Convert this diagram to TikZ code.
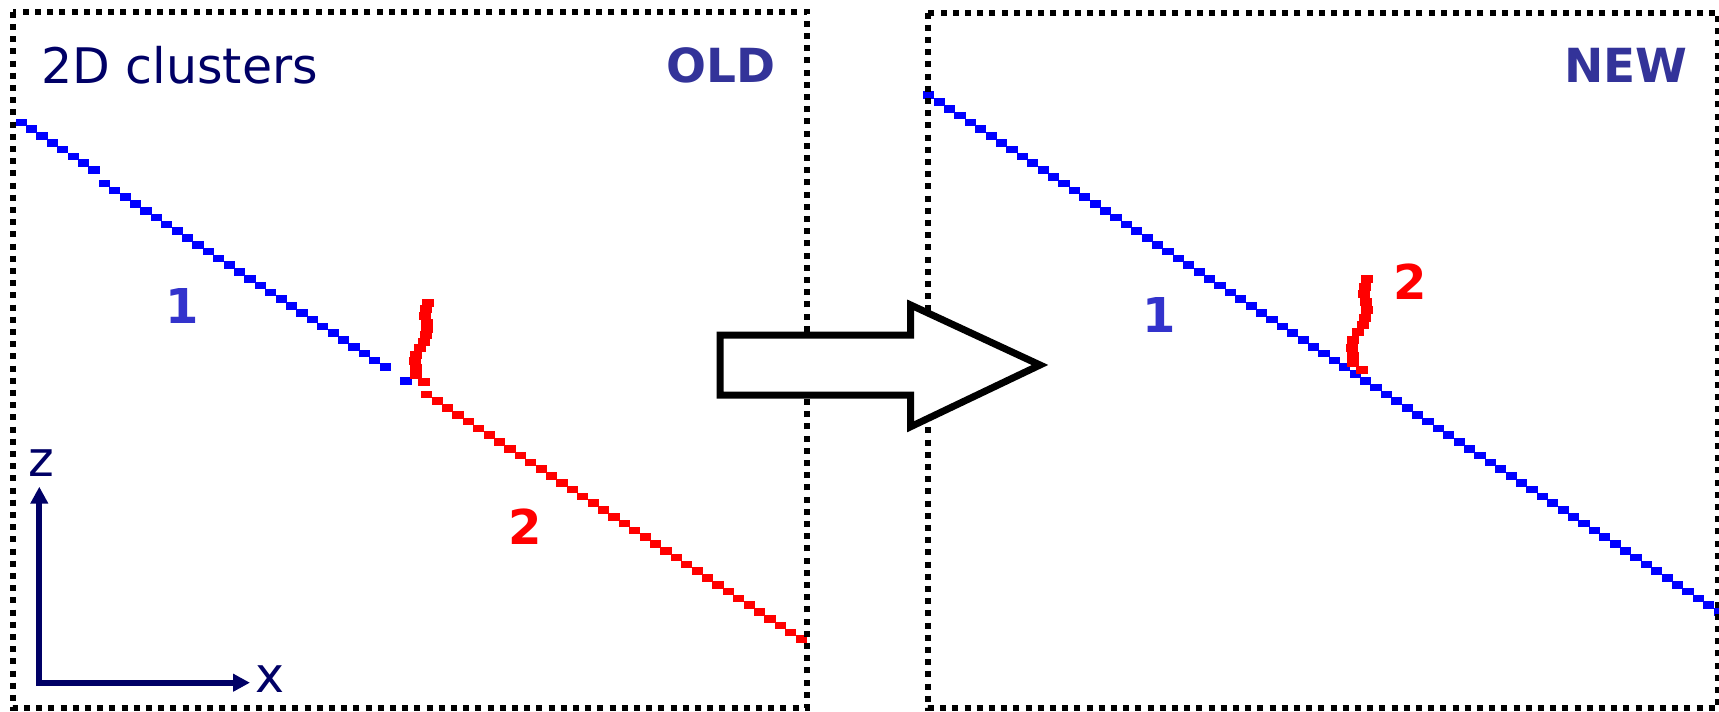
\documentclass[tikz,border=0pt]{standalone}
\usepackage{fontspec}
\setmainfont{DejaVu Sans}
\usetikzlibrary{arrows.meta}
\definecolor{navy}{RGB}{0,0,102}
\definecolor{oldnew}{RGB}{51,51,153}
\definecolor{lblblue}{RGB}{51,51,204}
\definecolor{trkblue}{RGB}{0,0,255}
\definecolor{trkred}{RGB}{255,0,0}
\tikzset{
  panel/.style={draw=black, line width=3pt, dash pattern=on 3pt off 3.1pt},
  axisline/.style={draw=navy, line width=3pt, line cap=rect, -{Triangle[length=8.5pt,width=8.5pt]}},
  titletext/.style={font=\fontsize{24.5}{28}\selectfont, text=navy, inner sep=0pt},
  tagtext/.style={font=\fontsize{23.5}{28}\selectfont\bfseries, text=oldnew, inner sep=0pt},
  numtext/.style={font=\fontsize{24}{28}\selectfont\bfseries, inner sep=0pt},
  bigarrow/.style={draw=black, fill=white, line width=3.5pt},
}
\newcommand{\trackcells}[6]{%
  \foreach \i in {#5,...,#6}{%
    \pgfmathsetmacro{\cx}{#2+\i*10.4+5.2}%
    \pgfmathsetmacro{\cy}{round((#3+#4*(\i*10.4+5.2))/6.8)*6.8}%
    \fill[#1] (\cx-5.6,\cy-3.8) rectangle (\cx+5.6,\cy+3.8);%
  }}
\newcommand{\curvecells}[2]{%
  \foreach \cx/\cy in {#2}{%
    \fill[#1] (\cx-6,\cy-4) rectangle (\cx+6,\cy+4);%
  }}
\begin{document}
\begin{tikzpicture}[x=0.5pt,y=-0.5pt]
\useasboundingbox (0,0) rectangle (1719,712);
% ---------- left panel tracks ----------
\trackcells{trkblue}{16}{121.6}{0.663}{0}{35}
\trackcells{trkblue}{16}{121.6}{0.663}{37}{37}
\trackcells{trkred}{16}{121.6}{0.663}{39}{75}
\curvecells{trkred}{427.7/302.7,426/309,425/316,427/323,427/329,426/335,424/342,420/348,416/355,415/361,416/368,416/375,424/382}
% ---------- right panel tracks ----------
\trackcells{trkblue}{923.6}{93.8}{0.655}{0}{76}
\curvecells{trkred}{1367/279,1365/287,1364/294,1366/302,1367/310,1365/318,1363/325,1358/332,1353/340,1352/348,1353/356,1353/363,1362/370}
% ---------- panels ----------
\draw[panel] (12.7,11.7) rectangle (806.7,708);
\draw[panel] (928,12.5) rectangle (1718,708);
% ---------- texts ----------
\node[titletext, anchor=base west] (title) at (41,83.3) {2D clusters};
\node[tagtext, anchor=base east] (old) at (776,83) {OLD};
\node[tagtext, anchor=base east] (new) at (1688,83) {NEW};
\node[numtext, text=lblblue] (oneL) at (182,306) {1};
\node[numtext, text=trkred] (twoL) at (525,527) {2};
\node[numtext, text=lblblue] (oneR) at (1159,315) {1};
\node[numtext, text=trkred] (twoR) at (1410,282) {2};
% ---------- axes ----------
\coordinate (origin) at (39.3,682.7);
\coordinate (zend) at (39.3,486.7);
\coordinate (xend) at (250,682.7);
\draw[axisline] (origin) -- (zend);
\draw[axisline] (origin) -- (xend);
\node[titletext] (zlab) at (41,463) {z};
\node[titletext] (xlab) at (269.5,679.5) {x};
% ---------- block arrow ----------
\draw[bigarrow] (720,335) -- (910.7,335) -- (910.7,305) -- (1040,365)
  -- (910.7,426.7) -- (910.7,395) -- (720,395) -- cycle;
\end{tikzpicture}
\end{document}
